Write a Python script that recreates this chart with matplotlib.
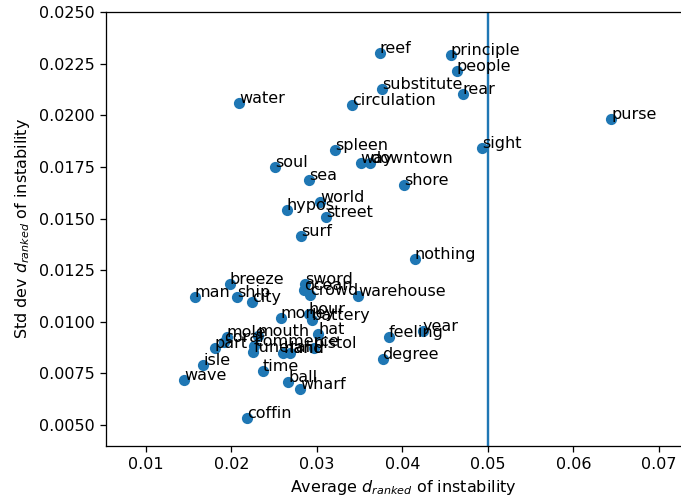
import numpy as np
import matplotlib
matplotlib.use("Agg")
import matplotlib.pyplot as plt

# words and their instability stats
words = ["reef", "principle", "people", "rear", "substitute", "circulation",
         "water", "purse", "sight", "spleen", "way", "downtown", "soul", "sea",
         "shore", "world", "hypos", "street", "surf", "nothing", "breeze",
         "man", "ship", "city", "warehouse", "sword", "ocean", "crowd",
         "money", "hour", "battery", "hat", "mouth", "mole", "coral",
         "commerce", "pistol", "part", "funeral", "hand", "land", "feeling",
         "year", "degree", "isle", "wave", "time", "ball", "wharf", "coffin"]
avg = [0.03737, 0.04567, 0.04637, 0.04708, 0.03760, 0.03409,
       0.02088, 0.06439, 0.04930, 0.03211, 0.03511, 0.03620, 0.02509, 0.02906,
       0.04018, 0.03035, 0.02649, 0.03105, 0.02813, 0.04146, 0.01982,
       0.01573, 0.02064, 0.02240, 0.03480, 0.02860, 0.02848, 0.02918,
       0.02579, 0.02906, 0.02942, 0.03015, 0.02310, 0.01947, 0.01912,
       0.02263, 0.02965, 0.01807, 0.02255, 0.02606, 0.02680, 0.03842,
       0.04240, 0.03768, 0.01670, 0.01444, 0.02365, 0.02665, 0.02801, 0.02178]
std = [0.02301, 0.02291, 0.02213, 0.02102, 0.02126, 0.02049,
       0.02059, 0.01981, 0.01840, 0.01830, 0.01771, 0.01771, 0.01748, 0.01685,
       0.01661, 0.01578, 0.01539, 0.01505, 0.01413, 0.01302, 0.01185,
       0.01118, 0.01118, 0.01094, 0.01123, 0.01185, 0.01156, 0.01132,
       0.01016, 0.01040, 0.01011, 0.00941, 0.00933, 0.00924, 0.00904,
       0.00885, 0.00875, 0.00873, 0.00852, 0.00847, 0.00850, 0.00928,
       0.00957, 0.00820, 0.00791, 0.00718, 0.00760, 0.00707, 0.00675, 0.00532]

threshold = 0.05

fig = plt.figure(figsize=(681 / 115, 500 / 115))
ax = fig.add_axes([0.1552, 0.1086, 0.8753, 0.8674])

ax.scatter(avg, std)
for w, x, y in zip(words, avg, std):
    ax.annotate(w, (x, y))
ax.axvline(threshold)

ax.set_xlim(0.0053, 0.075)
ax.set_ylim(0.004, 0.025)
ax.set_xticks(np.arange(0.01, 0.0701, 0.01))
ax.set_yticks(np.arange(0.005, 0.02501, 0.0025))
ax.set_yticklabels(["%.4f" % t for t in np.arange(0.005, 0.02501, 0.0025)])
ax.set_xticklabels(["%.2f" % t for t in np.arange(0.01, 0.0701, 0.01)])
ax.set_xlabel("Average $d_{ranked}$ of instability")
ax.set_ylabel("Std dev $d_{ranked}$ of instability")

fig.savefig("out.png", dpi=115)
